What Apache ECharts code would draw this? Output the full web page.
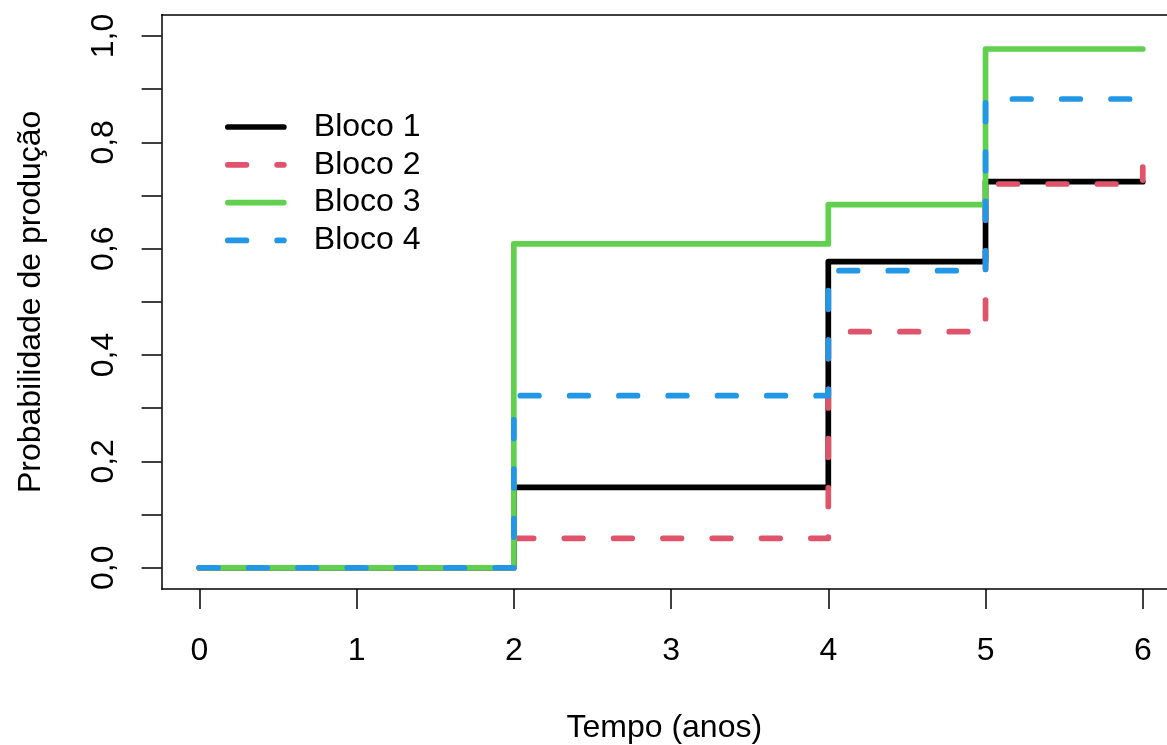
<!DOCTYPE html>
<html>
<head>
<meta charset="utf-8">
<script src="https://cdn.jsdelivr.net/npm/echarts@6/dist/echarts.min.js"></script>
<style>
  html, body { margin: 0; padding: 0; background: #fff; }
  #chart { width: 1167px; height: 745px; }
</style>
</head>
<body>
<div id="chart"></div>
<script>
// Step-function production probabilities by block
const tempos = [0, 2, 4, 5, 6];
const bloco1 = [0, 0.151, 0.5755, 0.726, 0.726];
const bloco2 = [0, 0.0553, 0.444, 0.7216, 0.7536];
const bloco3 = [0, 0.609, 0.6827, 0.9755, 0.9755];
const bloco4 = [0, 0.3235, 0.5586, 0.8815, 0.8815];

const nomes = ['Bloco 1', 'Bloco 2', 'Bloco 3', 'Bloco 4'];
const xTicks = [0, 1, 2, 3, 4, 5, 6];
const yTicks = [0, 0.1, 0.2, 0.3, 0.4, 0.5, 0.6, 0.7, 0.8, 0.9, 1.0];
const yLabels = [0, 0.2, 0.4, 0.6, 0.8, 1.0];

const FONT = 'Liberation Sans, Arial, Helvetica, sans-serif';
const LW = 5.7;
const DASH = [18.6, 30.7];
const X_MIN = -0.24, X_MAX = 6.154;

function pares(vals) {
  return tempos.map((t, i) => [t, vals[i]]);
}

function serie(nome, vals, cor, tracejado) {
  return {
    name: nome,
    type: 'line',
    step: 'end',
    symbol: 'none',
    showSymbol: false,
    data: pares(vals),
    itemStyle: { color: cor },
    lineStyle: {
      color: cor,
      width: LW,
      type: tracejado ? DASH : 'solid',
      cap: 'round',
      join: 'round'
    },
    emphasis: { disabled: true },
    animation: false
  };
}

function eixoLinha() {
  return { show: true, onZero: false, lineStyle: { color: '#000', width: 1.5 } };
}

const chart = echarts.init(document.getElementById('chart'));
chart.setOption({
  animation: false,
  backgroundColor: '#ffffff',
  textStyle: { fontFamily: FONT },
  grid: {
    left: 161.6,
    top: 14.7,
    right: 0,
    height: 574.3,
    show: false,
    containLabel: false,
    outerBoundsMode: 'none'
  },
  legend: {
    orient: 'vertical',
    left: 225,
    top: 111,
    padding: 0,
    itemWidth: 56,
    itemHeight: 2,
    itemGap: 5.8,
    data: nomes,
    selectedMode: false,
    itemStyle: { opacity: 0 },
    lineStyle: { width: LW, cap: 'round' },
    textStyle: {
      fontFamily: FONT,
      fontSize: 32,
      color: '#000',
      lineHeight: 32,
      padding: [0, 0, 0, 25]
    }
  },
  xAxis: [{
    type: 'value',
    position: 'bottom',
    min: X_MIN,
    max: X_MAX,
    name: 'Tempo (anos)',
    nameLocation: 'middle',
    nameGap: 123,
    nameTextStyle: { fontFamily: FONT, fontSize: 32, color: '#000', verticalAlign: 'top' },
    axisLine: eixoLinha(),
    splitLine: { show: false },
    axisTick: {
      show: true,
      inside: false,
      length: 20,
      customValues: xTicks,
      lineStyle: { color: '#000', width: 1.5 }
    },
    axisLabel: {
      show: true,
      customValues: xTicks,
      margin: 46,
      fontFamily: FONT,
      fontSize: 32,
      color: '#000',
      formatter: v => String(v)
    }
  }, {
    type: 'value',
    position: 'top',
    min: X_MIN,
    max: X_MAX,
    axisLine: eixoLinha(),
    axisTick: { show: false },
    axisLabel: { show: false },
    splitLine: { show: false }
  }],
  yAxis: {
    type: 'value',
    min: -0.04,
    max: 1.04,
    name: 'Probabilidade de produção',
    nameLocation: 'middle',
    nameRotate: 90,
    nameGap: 114,
    nameTextStyle: { fontFamily: FONT, fontSize: 32, color: '#000' },
    axisLine: eixoLinha(),
    splitLine: { show: false },
    axisTick: {
      show: true,
      inside: false,
      length: 20,
      customValues: yTicks,
      lineStyle: { color: '#000', width: 1.5 }
    },
    axisLabel: {
      show: true,
      rotate: 90,
      customValues: yLabels,
      margin: 41,
      fontFamily: FONT,
      fontSize: 32,
      color: '#000',
      formatter: v => v.toFixed(1).replace('.', ',')
    }
  },
  series: [
    serie(nomes[0], bloco1, '#000000', false),
    serie(nomes[1], bloco2, '#DF536B', true),
    serie(nomes[2], bloco3, '#61D04F', false),
    serie(nomes[3], bloco4, '#2297E6', true)
  ]
});
</script>
</body>
</html>
